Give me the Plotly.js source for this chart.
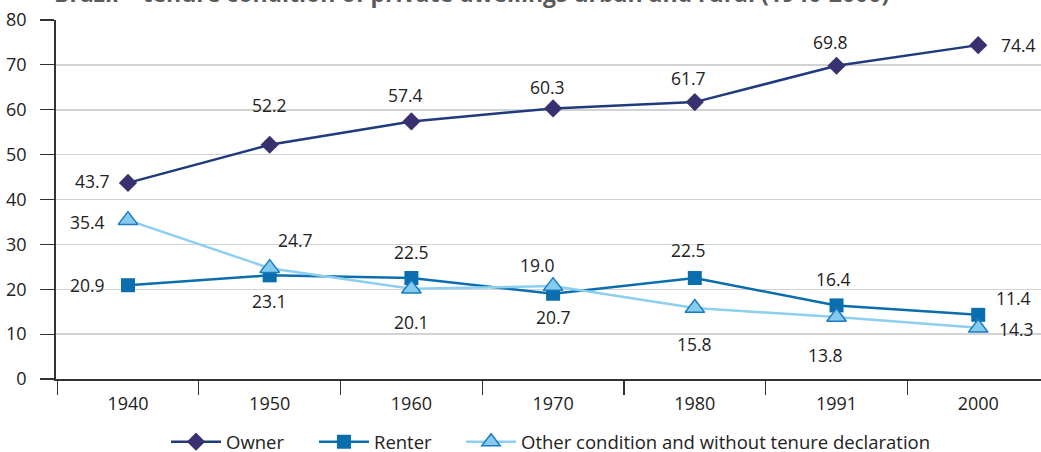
<!DOCTYPE html>
<html>
<head>
<meta charset="utf-8">
<script src="https://cdn.plot.ly/plotly-3.0.1.min.js"></script>
<style>html,body{margin:0;padding:0;background:#fff;}#chart{width:1041px;height:452px;}</style>
</head>
<body>
<div id="chart"></div>
<script>
// ---- data ----
const years = ["1940", "1950", "1960", "1970", "1980", "1991", "2000"];
const owner = [43.7, 52.2, 57.4, 60.3, 61.7, 69.8, 74.4];
const renter = [20.9, 23.1, 22.5, 19.0, 22.5, 16.4, 14.3];
const other = [35.4, 24.7, 20.1, 20.7, 15.8, 13.8, 11.4];
// labels as printed in the source chart
const ownerLabels = ["43.7", "52.2", "57.4", "60.3", "61.7", "69.8", "74.4"];
const renterLabels = ["20.9", "23.1", "22.5", "19.0", "22.5", "16.4", "11.4"];
const otherLabels = ["35.4", "24.7", "20.1", "20.7", "15.8", "13.8", "14.3"];
const seriesNames = ["Owner", "Renter", "Other condition and without tenure declaration"];
const yTicks = [0, 10, 20, 30, 40, 50, 60, 70, 80];
const titleText = "Brazil – tenure condition of private dwellings urban and rural (1940-2000)";

// ---- label placement (pixel shifts) ----
const ownerShift = [[-35, 2], [0, 40], [-6, 26], [-6, 21], [-6, 24], [-6, 24], [40, 0]];
const renterShift = [[-40, 0], [0, -26], [0, 26], [-16, 29], [-6, 28], [-3, 26], [35, 17]];
const otherShift = [[-40, -2], [26, 28], [0, -33], [0, -31], [0, -36], [-11, -38], [38, -1]];
const legendX = [0.1117, 0.2619, 0.4112];

const FONT = "Open Sans, Noto Sans, sans-serif";

const traces = [
  {
    x: years, y: owner, name: seriesNames[0], type: "scatter", mode: "lines+markers", legend: "legend",
    line: {color: "#1f3b7d", width: 2.5},
    marker: {symbol: "diamond", size: 14, color: "#38306f", line: {width: 0}}
  },
  {
    x: years, y: renter, name: seriesNames[1], type: "scatter", mode: "lines+markers", legend: "legend2",
    line: {color: "#0a6eae", width: 2.5},
    marker: {symbol: "square", size: 14, color: "#0a6eae", line: {width: 0}}
  },
  {
    x: years, y: other, name: seriesNames[2], type: "scatter", mode: "lines+markers", legend: "legend3",
    line: {color: "#8ccfef", width: 2.5},
    marker: {symbol: "triangle-up", size: 17, color: "#84cbee", line: {width: 1.5, color: "#1a7bbf"}}
  }
];

const annotations = [];
function addLabels(vals, labels, shifts) {
  vals.forEach((v, i) => {
    annotations.push({
      x: i, y: v, xref: "x", yref: "y", text: labels[i], showarrow: false,
      xshift: shifts[i][0], yshift: shifts[i][1],
      font: {family: FONT, size: 17.5, color: "#222"}
    });
  });
}
addLabels(owner, ownerLabels, ownerShift);
addLabels(renter, renterLabels, renterShift);
addLabels(other, otherLabels, otherShift);

annotations.push({
  xref: "paper", yref: "paper", x: -0.004, y: 1.026, xanchor: "left", yanchor: "bottom",
  text: "<b>" + titleText + "</b>", showarrow: false,
  font: {family: FONT, size: 23, color: "#5a5a5a"}
});

function legendAt(x) {
  return {
    orientation: "h", x: x, xanchor: "left", y: -0.176, yanchor: "middle",
    font: {family: FONT, size: 18.5, color: "#222"}, itemwidth: 50, bgcolor: "rgba(0,0,0,0)"
  };
}

const layout = {
  width: 1041, height: 452,
  margin: {l: 56, r: 0, t: 20, b: 73, autoexpand: false},
  paper_bgcolor: "#fff", plot_bgcolor: "#fff",
  showlegend: true,
  legend: legendAt(legendX[0]),
  legend2: legendAt(legendX[1]),
  legend3: legendAt(legendX[2]),
  xaxis: {
    type: "category", range: [-0.508, 6.443],
    tickson: "boundaries", ticks: "outside", ticklen: 14, tickcolor: "#333", tickwidth: 1.2,
    showline: true, linecolor: "#333", linewidth: 1.5, showgrid: false, ticklabelstandoff: 8,
    tickfont: {family: FONT, size: 18, color: "#222"}, fixedrange: true
  },
  yaxis: {
    range: [0, 80], tickvals: yTicks, ticktext: yTicks.map(String),
    ticks: "outside", ticklen: 14, tickcolor: "#333", tickwidth: 1.2,
    showline: true, linecolor: "#333", linewidth: 1.8, ticklabelstandoff: 10,
    showgrid: true, gridcolor: "#d3d3d3", gridwidth: 1.5, zeroline: false,
    tickfont: {family: FONT, size: 18, color: "#222"}, fixedrange: true
  },
  annotations: annotations
};

Plotly.newPlot("chart", traces, layout, {displayModeBar: false, staticPlot: true});
</script>
</body>
</html>
